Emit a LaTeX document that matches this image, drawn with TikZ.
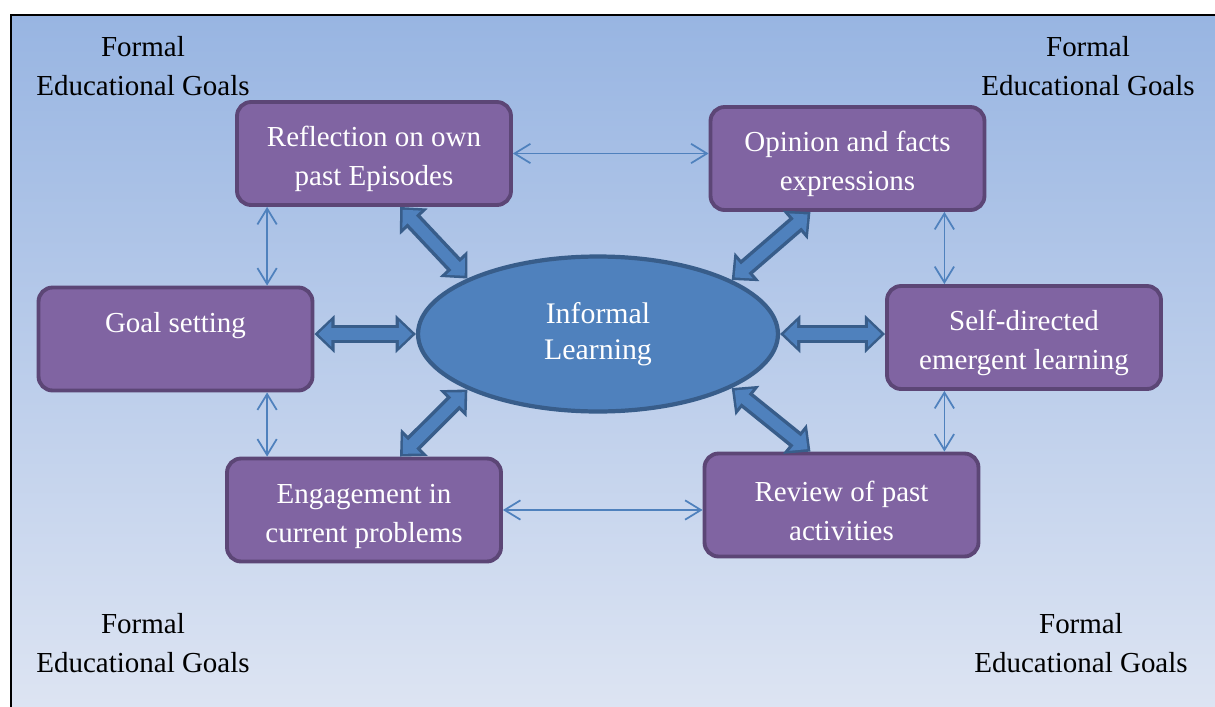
\documentclass[tikz,border=0pt]{standalone}
\usepackage{fontspec}
\setmainfont{Liberation Serif}
\usetikzlibrary{shapes.geometric,arrows.meta,calc}

\definecolor{boxfill}{RGB}{128,100,162}
\definecolor{boxline}{RGB}{92,70,118}
\definecolor{ovalfill}{RGB}{79,129,189}
\definecolor{ovalline}{RGB}{56,93,138}
\definecolor{bgtop}{RGB}{152,181,226}
\definecolor{bgbottom}{RGB}{222,229,243}

\newcommand{\topgap}[1]{\rule{0pt}{#1}}

\begin{document}
\begin{tikzpicture}[x=0.02cm,y=-0.02cm,
  font=\fontsize{16.5}{22.2}\selectfont,
  activity/.style={draw=boxline,fill=boxfill,line width=2.2pt,rounded corners=8pt,
    minimum width=5.48cm,minimum height=2.06cm,inner sep=0pt,align=center,text=white},
  informal/.style={ellipse,draw=ovalline,fill=ovalfill,line width=2.4pt,
    minimum width=7.2cm,minimum height=3.1cm,inner sep=0pt,align=center,text=white,
    font=\fontsize{17}{20.5}\selectfont},
  goals/.style={align=center,inner sep=0pt},
  link/.style={draw=ovalfill,line width=1pt,
    {Straight Barb[length=9pt,width=11pt]}-{Straight Barb[length=9pt,width=11pt]}},
  bigarrow/.style={draw=ovalfill,line width=6.4pt,
    {Triangle[width=14pt,length=7.5pt]}-{Triangle[width=14pt,length=7.5pt]},
    shorten >=2.2pt,shorten <=2.2pt,
    preaction={draw=ovalline,line width=10.4pt,shorten >=0pt,shorten <=0pt,
      {Triangle[width=21pt,length=11.5pt]}-{Triangle[width=21pt,length=11.5pt]}}}]

\useasboundingbox (0,0) rectangle (1215,707) ;

\shade[top color=bgtop,bottom color=bgbottom] (11,15) rectangle (1230,720) ;
\draw[line width=1.2pt] (11,15) rectangle (1230,720) ;

\node[goals] (fegA) at (143,66) {Formal\\Educational Goals} ;
\node[goals] (fegB) at (1088,66) {Formal\\Educational Goals} ;
\node[goals] (fegC) at (143,643) {Formal\\Educational Goals} ;
\node[goals] (fegD) at (1081,643) {Formal\\Educational Goals} ;

\node[activity] (refl) at (374,153.5) {\topgap{18pt}Reflection on own\\past Episodes} ;
\node[activity] (opin) at (847.5,158.5) {\topgap{18pt}Opinion and facts\\expressions} ;
\node[activity] (goal) at (175.5,339) {\topgap{21pt}Goal setting\\\strut} ;
\node[activity] (self) at (1024,337.5) {\topgap{18pt}Self-directed\\emergent learning} ;
\node[activity] (engage) at (364,510) {\topgap{18pt}Engagement in\\current problems} ;
\node[activity] (review) at (841.5,505) {\topgap{18pt}Review of past\\activities} ;

\node[informal] (inf) at (598,334) {Informal\\Learning} ;

\draw[bigarrow] ($(refl.south)+(26,0)$) -- (inf.157) ;
\draw[bigarrow] ($(opin.south)+(-37,0)$) -- (inf.22) ;
\draw[bigarrow] (inf.180 -| goal.east) -- (inf.180) ;
\draw[bigarrow] (inf.0 -| self.west) -- (inf.0) ;
\draw[bigarrow] ($(engage.north)+(36,0)$) -- (inf.203) ;
\draw[bigarrow] ($(review.north)+(-31,0)$) -- (inf.338) ;

\coordinate (rg) at ($(refl.south west)+(32,0)$) ;
\coordinate (os) at ($(opin.south east)+(-42,0)$) ;

\draw[link] (refl.east) -- (refl.east -| opin.west) ;
\draw[link] (rg) -- (rg |- goal.north) ;
\draw[link] (rg |- goal.south) -- (rg |- engage.north) ;
\draw[link] (engage.east) -- (engage.east -| review.west) ;
\draw[link] (os) -- (os |- self.north) ;
\draw[link] (os |- self.south) -- (os |- review.north) ;

\end{tikzpicture}
\end{document}
